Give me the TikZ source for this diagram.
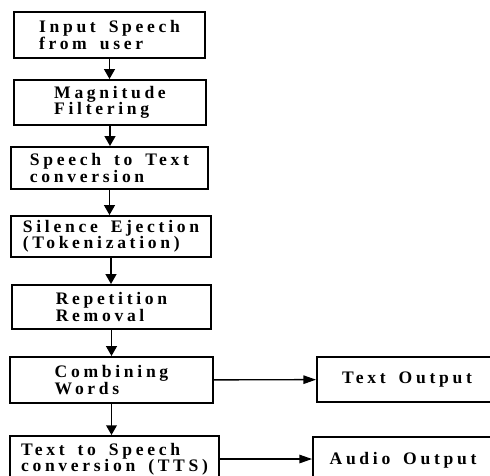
\documentclass[tikz,border=0pt]{standalone}
\usepackage{fontspec}
\setmainfont{Liberation Serif}[LetterSpace=21,WordSpace=1.6]
\usetikzlibrary{arrows.meta}

\tikzset{
	stage/.style={draw,line width=1.3pt,align=left,inner sep=0pt,font=\fontsize{12.5}{11.5}\selectfont\bfseries},
	flow/.style={line width=1.4pt,-{Triangle[length=7pt,width=7.5pt]}},
	sideflow/.style={line width=1pt,-{Triangle[length=9pt,width=6pt]}}
}

\begin{document}
\begin{tikzpicture}[x=0.025cm,y=-0.025cm]
	\clip (0,0) rectangle (490,475);
	\useasboundingbox (0,0) rectangle (490,475);
	\node[stage,minimum width=4.775cm,minimum height=1.15cm] (input) at (109.5,35) {Input Speech\\from user};
	\node[stage,minimum width=4.8cm,minimum height=1.125cm] (filter) at (110,102.5) {Magnitude\\Filtering};
	\node[stage,minimum width=4.925cm,minimum height=1.05cm] (stt) at (109.5,168) {Speech to Text\\conversion};
	\node[stage,minimum width=5cm,minimum height=1.025cm] (silence) at (111,236.5) {Silence Ejection\\(Tokenization)};
	\node[stage,minimum width=4.975cm,minimum height=1.1cm] (repeat) at (111.5,307) {Repetition\\Removal};
	\node[stage,minimum width=5.075cm,minimum height=1.15cm] (combine) at (111.5,380) {Combining\\Words};
	\node[stage,minimum width=5.225cm,minimum height=1.15cm] (tts) at (114.5,459) {Text to Speech\\conversion (TTS)};
	\node[stage,minimum width=4.5cm,minimum height=1.125cm] (textout) at (407,379.5) {Text Output};
	\node[stage,minimum width=4.5cm,minimum height=1.15cm] (audioout) at (403,460) {Audio Output};

	\draw[flow,xshift=-0.15cm] (input.south) -- (input.south |- filter.north);
	\draw[flow,xshift=-0.15cm] (filter.south) -- (filter.south |- stt.north);
	\draw[flow,xshift=-0.15cm] (stt.south) -- (stt.south |- silence.north);
	\draw[flow,xshift=-0.2cm] (silence.south) -- (silence.south |- repeat.north);
	\draw[flow,xshift=-0.25cm] (repeat.south) -- (repeat.south |- combine.north);
	\draw[flow,xshift=-0.3cm] (combine.south) -- (combine.south |- tts.north);
	\draw[sideflow] (combine) -- (textout);
	\draw[sideflow] (tts.east) -- (tts.east -| audioout.west);
\end{tikzpicture}
\end{document}
